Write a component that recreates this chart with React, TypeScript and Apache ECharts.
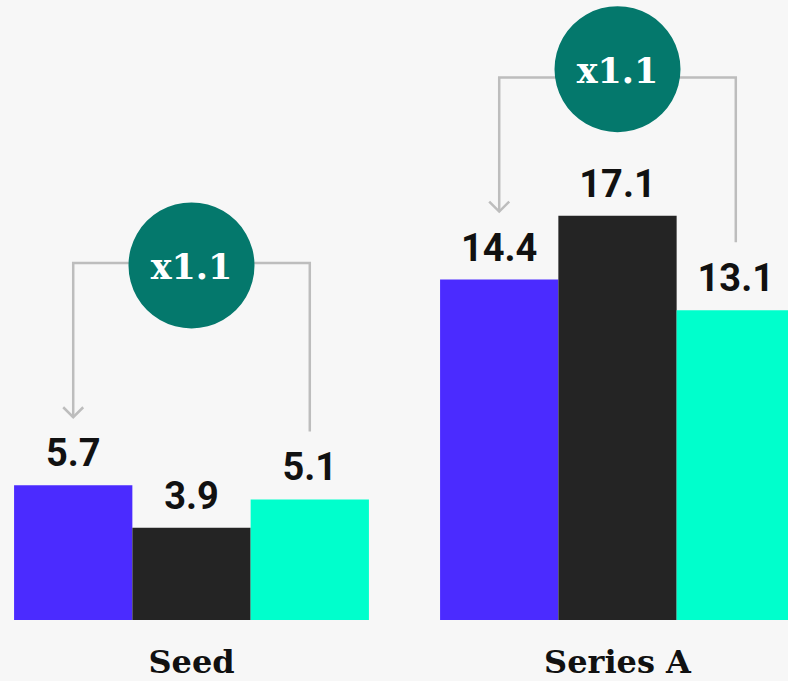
import React, { useEffect, useRef } from "react";
import * as echarts from "echarts";

const categories = ["Seed", "Series A"];
const purpleValues = [5.7, 14.4];
const darkValues = [3.9, 17.1];
const cyanValues = [5.1, 13.1];
const multiplierLabels = ["x1.1", "x1.1"];
const circleLevels = [15.0, 23.3];
const connectorLevels = [15.1, 22.95];

const FONT = "'DejaVu Serif', serif";
const NUM_FONT = "Roboto, sans-serif";
const GAP_FRAC = 0.167;

export default function App() {
  const ref = useRef<HTMLDivElement>(null);
  useEffect(() => {
    document.body.style.margin = "0";
    const chart = echarts.init(ref.current!, null, { renderer: "svg" });
    const label = {
      show: true,
      position: "top",
      distance: 13,
      fontFamily: NUM_FONT,
      fontWeight: "bold",
      fontSize: 38,
      color: "#111111",
    };
    const mk = (name: string, data: number[], color: string) => ({
      name,
      type: "bar",
      data,
      barGap: "0%",
      barCategoryGap: (GAP_FRAC * 100).toFixed(1) + "%",
      itemStyle: { color },
      label,
    });
    chart.setOption({
      animation: false,
      backgroundColor: "#f7f7f7",
      grid: { left: -21.5, right: -42.5, top: 29, bottom: 61, outerBoundsMode: "none", containLabel: false },
      xAxis: {
        type: "category",
        data: categories,
        axisLine: { show: false },
        axisTick: { show: false },
        axisLabel: {
          margin: 26,
          fontFamily: FONT,
          fontWeight: "bold",
          fontSize: 32,
          lineHeight: 32,
          color: "#111111",
        },
      },
      yAxis: { type: "value", min: 0, max: 25, show: false, splitLine: { show: false } },
      series: [
        mk("Group 1", purpleValues, "#4b2bff"),
        mk("Group 2", darkValues, "#242424"),
        mk("Group 3", cyanValues, "#00ffcc"),
      ],
    });

    const c0 = chart.convertToPixel({ xAxisIndex: 0 }, categories[0]) as number;
    const c1 = chart.convertToPixel({ xAxisIndex: 0 }, categories[1]) as number;
    const band = c1 - c0;
    const bw = (band * (1 - GAP_FRAC)) / 3;
    const R = 63;
    const stroke = "#bdbdbd";
    const graphic: any[] = [];
    categories.forEach((cat, i) => {
      const cx = chart.convertToPixel({ xAxisIndex: 0 }, cat) as number;
      const cy = chart.convertToPixel({ yAxisIndex: 0 }, circleLevels[i]) as number;
      const ly = chart.convertToPixel({ yAxisIndex: 0 }, connectorLevels[i]) as number;
      const lx = cx - bw;
      const rx = cx + bw;
      const lTop = chart.convertToPixel({ yAxisIndex: 0 }, purpleValues[i]) as number;
      const rTop = chart.convertToPixel({ yAxisIndex: 0 }, cyanValues[i]) as number;
      const lEnd = lTop - 68;
      const rEnd = rTop - 68;
      graphic.push({
        type: "polyline",
        z: 10,
        shape: { points: [[cx - R + 2, ly], [lx, ly], [lx, lEnd]] },
        style: { stroke, lineWidth: 2.5, fill: null },
      });
      graphic.push({
        type: "polyline",
        z: 10,
        shape: { points: [[lx - 10, lEnd - 10], [lx, lEnd], [lx + 10, lEnd - 10]] },
        style: { stroke, lineWidth: 2.5, fill: null },
      });
      graphic.push({
        type: "polyline",
        z: 10,
        shape: { points: [[cx + R - 2, ly], [rx, ly], [rx, rEnd]] },
        style: { stroke, lineWidth: 2.5, fill: null },
      });
      graphic.push({
        type: "circle",
        z: 11,
        shape: { cx, cy, r: R },
        style: { fill: "#04786c" },
      });
      graphic.push({
        type: "text",
        z: 12,
        x: cx,
        y: cy + 1,
        style: {
          text: multiplierLabels[i],
          fill: "#ffffff",
          fontFamily: FONT,
          fontWeight: "bold",
          fontSize: 35,
          align: "center",
          verticalAlign: "middle",
        },
      });
    });
    chart.setOption({ graphic });
    return () => chart.dispose();
  }, []);
  return <div ref={ref} style={{ width: 788, height: 681 }} />;
}
